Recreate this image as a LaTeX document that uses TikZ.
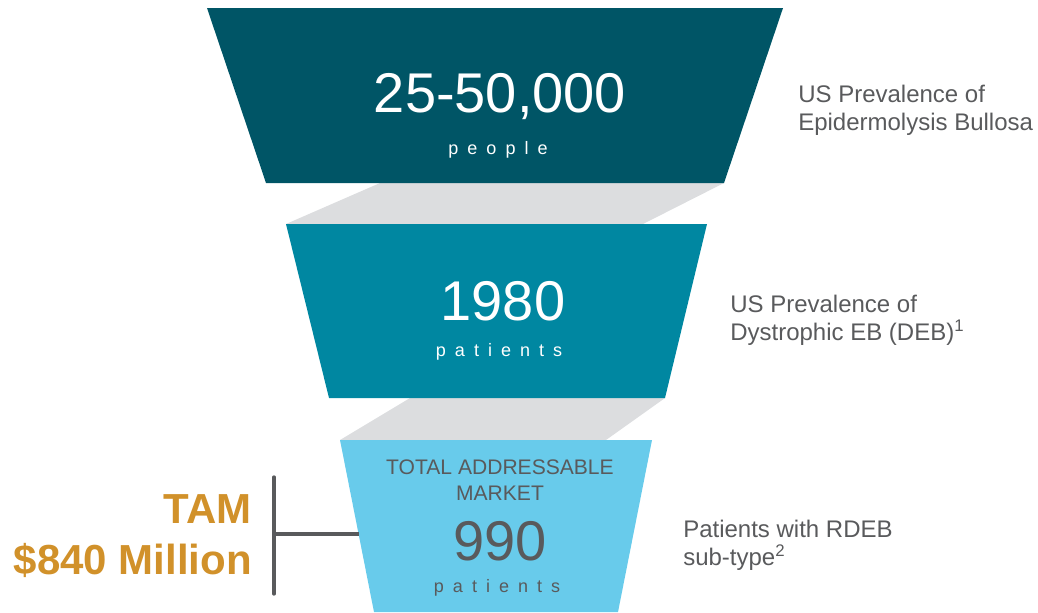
\documentclass[tikz,border=0pt]{standalone}
\usepackage{fontspec}
\setmainfont{Liberation Sans}
\newfontfamily\spaced[LetterSpace=50]{Liberation Sans}
\definecolor{tealdark}{HTML}{005566}
\definecolor{tealmid}{HTML}{0087A1}
\definecolor{tealight}{HTML}{68CBEB}
\definecolor{funnelgrey}{HTML}{DCDDDF}
\definecolor{labelgrey}{HTML}{595A5C}
\definecolor{tamorange}{HTML}{D1912A}
\tikzset{
  bignum/.style={inner sep=0, font=\fontsize{42}{46}\selectfont},
  unit/.style={inner sep=0, font=\spaced\fontsize{13.5}{16}\selectfont},
  sidelabel/.style={inner sep=0, anchor=west, align=left, text=labelgrey, font=\fontsize{18}{21}\selectfont},
}
\begin{document}
\begin{tikzpicture}[x=0.75pt, y=-0.75pt]
\useasboundingbox (0,0) rectangle (1038,612);
\fill[funnelgrey] (380,183) -- (724,183) -- (643,224) -- (286,224) -- cycle;
\fill[funnelgrey] (410,398) -- (665,398) -- (606,440) -- (340,440) -- cycle;
\fill[tealdark] (207,8) -- (783,8) -- (724,183) -- (266,183) -- cycle;
\fill[tealmid] (286,224) -- (707,224) -- (665,398) -- (329,398) -- cycle;
\fill[tealight] (340,440) -- (652,440) -- (618,612) -- (374,612) -- cycle;

\node[bignum, text=white] (num0) at (500,97){25-50,000};
\node[unit, text=white] (unit0) at (498,150){people};
\node[bignum, text=white] (num1) at (503,301){1980};
\node[unit, text=white] (unit1) at (499,352){patients};
\node[inner sep=0, align=center, text=labelgrey, font=\fontsize{15.8}{19}\selectfont] (tam0) at (500,480){TOTAL ADDRESSABLE\\MARKET};
\node[bignum, text=labelgrey] (num2) at (500,541){990};
\node[unit, text=labelgrey] (unit2) at (497,588){patients};

\node[sidelabel] (lab0) at (798,110){US Prevalence of\\Epidermolysis Bullosa};
\node[sidelabel] (lab1) at (730,320){US Prevalence of\\Dystrophic EB (DEB)\textsuperscript{1}};
\node[sidelabel] (lab2) at (683,545){Patients with RDEB\\sub-type\textsuperscript{2}};

\node[inner sep=0, anchor=east, align=right, text=tamorange, font=\bfseries\fontsize{31.5}{38}\selectfont] (tam) at (252,536){TAM\\\$840 Million};
\coordinate (bartop) at (274,477);
\coordinate (barbot) at (274,594);
\coordinate (barmid) at (274,534);
\coordinate (edge) at (359,534);
\draw[labelgrey, line width=2.5pt, line cap=round](bartop) -- (barbot);
\draw[labelgrey, line width=2.5pt](barmid) -- (edge);

\end{tikzpicture}
\end{document}
